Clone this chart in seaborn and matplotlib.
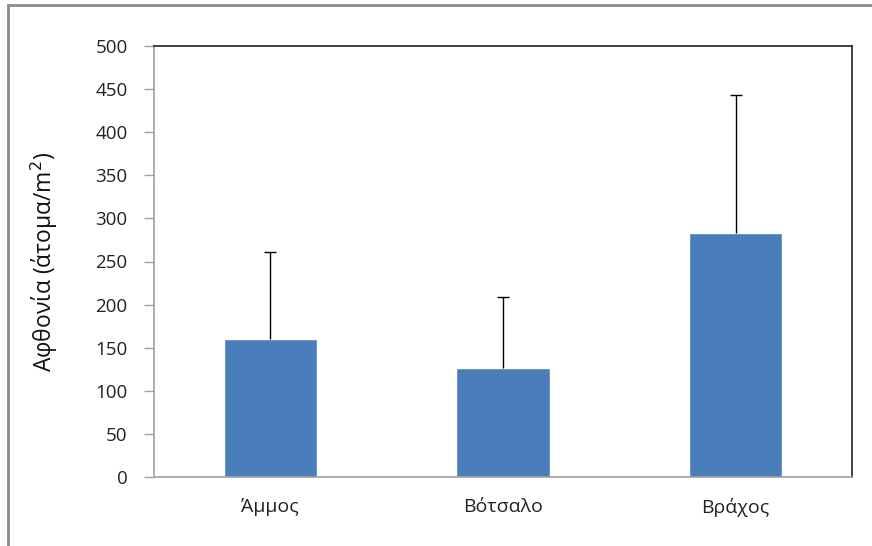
import matplotlib
matplotlib.use("Agg")
import matplotlib.pyplot as plt
import seaborn as sns
import pandas as pd
import numpy as np
from matplotlib.patches import Rectangle

# Abundance per substrate type (mean and standard deviation)
habitats = ["Άμμος", "Βότσαλο", "Βράχος"]
abundance = [160, 126, 283]
abundance_sd = [101, 83, 160]
y_ticks = [0, 50, 100, 150, 200, 250, 300, 350, 400, 450, 500]

df = pd.DataFrame({"habitat": habitats, "abundance": abundance, "sd": abundance_sd})

sns.set_theme(style="white")
plt.rcParams["font.family"] = ["Open Sans", "DejaVu Sans"]

fig = plt.figure(figsize=(8.72, 5.46), dpi=100)
ax = fig.add_axes([154 / 872, 69 / 546, 698 / 872, 431 / 546])

sns.barplot(data=df, x="habitat", y="abundance", color="#4A7EBB", width=0.4,
            saturation=1, errorbar=None, ax=ax, zorder=2)

# upper error bars only
xpos = np.arange(len(habitats))
eb = ax.errorbar(xpos, df["abundance"], yerr=[np.zeros(len(habitats)), df["sd"]],
                 fmt="none", ecolor="black", elinewidth=1.0, capsize=4, capthick=1.0, zorder=3)
eb[1][0].set_visible(False)  # hide the cap at the bar top

ax.set_ylim(0, 500)
ax.set_xlim(-0.5, len(habitats) - 0.5)
ax.set_yticks(y_ticks)
ax.set_yticklabels([str(t) for t in y_ticks], fontsize=13.5, color="#222222")
ax.set_xticks(xpos)
ax.set_xticklabels(habitats, fontsize=14, color="#222222")

# x ticks sit at category boundaries
ax.tick_params(axis="x", which="major", length=0, pad=15)
ax.set_xticks(np.arange(-0.5, len(habitats)), minor=True)
ax.tick_params(axis="x", which="minor", length=7, width=1, color="#a0a0a0", direction="out")
ax.tick_params(axis="y", length=7, width=1, color="#a0a0a0", direction="out", pad=12, left=True)

ax.set_xlabel("")
ax.set_ylabel("Αφθονία (άτομα/m$^2$)", fontsize=16.5, color="#111111")
ax.yaxis.set_label_coords(-0.134, 0.5)

for side in ["left", "bottom"]:
    ax.spines[side].set_color("#a0a0a0")
    ax.spines[side].set_linewidth(1.2)
for side in ["top", "right"]:
    ax.spines[side].set_visible(True)
    ax.spines[side].set_color("#222222")
    ax.spines[side].set_linewidth(1.2)

# outer chart frame
fig.patches.append(Rectangle((8 / 872, -0.01), 1.0, (546 - 5) / 546 + 0.01,
                             transform=fig.transFigure, fill=False,
                             edgecolor="#8a8a8a", linewidth=2))

fig.savefig("out.png", dpi=100)
